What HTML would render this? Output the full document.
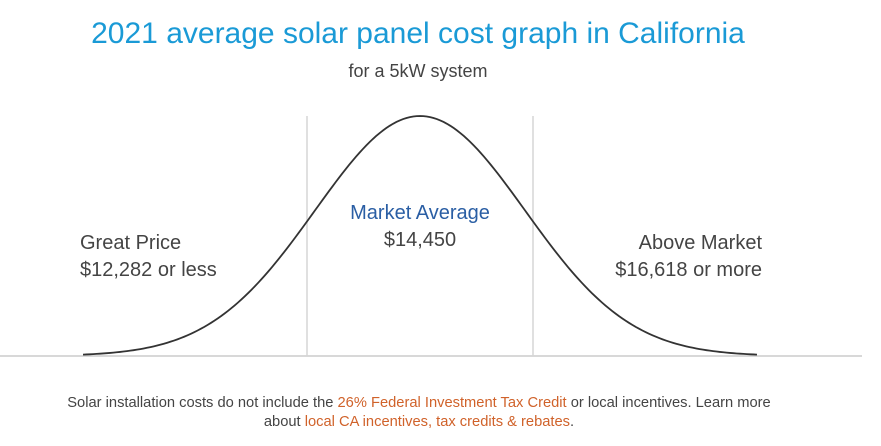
<!DOCTYPE html>
<html><head><meta charset="utf-8">
<style>
body{margin:0;width:881px;height:446px;background:#fff;overflow:hidden;font-family:"Liberation Sans",sans-serif;}
svg{position:absolute;left:0;top:0}
.t{position:absolute;white-space:nowrap}
</style></head>
<body>
<div class="t" style="left:0;width:836px;text-align:center;top:17px;font-size:30px;color:#1a9ad6;">2021 average solar panel cost graph in California</div>
<div class="t" style="left:0;width:836px;text-align:center;top:61px;font-size:18px;color:#444;">for a 5kW system</div>
<svg width="881" height="446" id="chart"></svg>
<div class="t" style="left:80px;top:230px;font-size:20px;line-height:27px;color:#444;">Great Price<br>$12,282 or less</div>
<div class="t" style="left:320px;width:200px;text-align:center;top:200px;font-size:20px;line-height:27px;color:#444;"><span style="color:#2a5ea4">Market Average</span><br>$14,450</div>
<div class="t" style="left:560px;width:202px;text-align:right;top:230px;font-size:20px;line-height:27px;color:#444;">Above Market<br>$16,618 or more</div>
<div class="t" style="left:0;width:838px;text-align:center;top:394px;font-size:14.7px;line-height:19px;color:#444;">Solar installation costs do not include the <span style="color:#d0622a">26% Federal Investment Tax Credit</span> or local incentives. Learn more<br>about <span style="color:#d0622a">local CA incentives, tax credits &amp; rebates</span>.</div>
<script>
const meanPrice = [14450];
const thresholds = [12282, 16618];
const stdDev = [2015];
const priceRange = [7985, 20915];
const svg = document.getElementById('chart');
const NS = 'http://www.w3.org/2000/svg';
const cx = 420, pxPerDollar = 113 / 2168, baseY = 356, peakH = 240;
function xs(p){ return cx + (p - meanPrice[0]) * pxPerDollar; }
function ys(d){ return baseY - d * peakH; }
const base = document.createElementNS(NS,'line');


base.setAttribute('x1',0);base.setAttribute('x2',862);base.setAttribute('y1',baseY);base.setAttribute('y2',baseY);
base.setAttribute('stroke','#ccc');base.setAttribute('stroke-width','1.5');
svg.appendChild(base);
thresholds.forEach((t,i)=>{
  const l = document.createElementNS(NS,'line');
  
  
  l.setAttribute('x1',xs(t));l.setAttribute('x2',xs(t));l.setAttribute('y1',116);l.setAttribute('y2',baseY);
  l.setAttribute('stroke','#d5d5d5');l.setAttribute('stroke-width','1.5');
  svg.appendChild(l);
});
let d='';
for(let i=0;i<=200;i++){
  const p = priceRange[0] + (priceRange[1]-priceRange[0])*i/200;
  const z = (p-meanPrice[0])/stdDev[0];
  const v = Math.exp(-z*z/2);
  d += (i?'L':'M') + xs(p).toFixed(2) + ' ' + ys(v).toFixed(2);
}
const path = document.createElementNS(NS,'path');


path.setAttribute('d',d);path.setAttribute('fill','none');path.setAttribute('stroke','#333');path.setAttribute('stroke-width','1.8');
svg.appendChild(path);
</script>
</body></html>
